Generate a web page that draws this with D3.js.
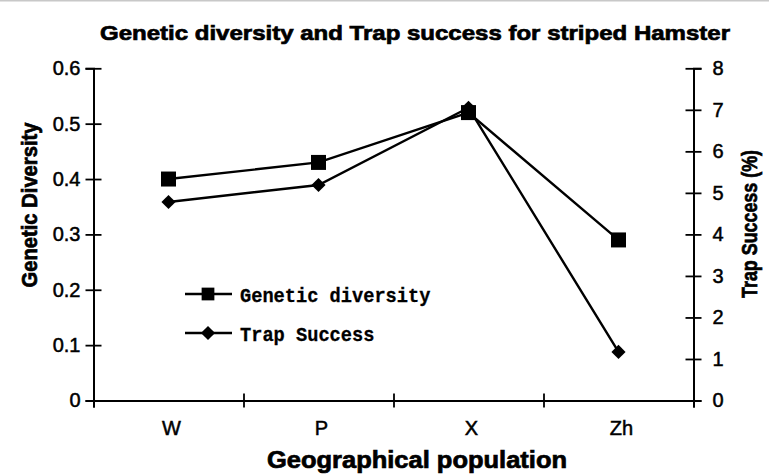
<!DOCTYPE html>
<html>
<head>
<meta charset="utf-8">
<script src="https://cdn.jsdelivr.net/npm/d3@7"></script>
<style>
  html, body { margin: 0; padding: 0; background: #fff; }
  svg { display: block; }
</style>
</head>
<body>
<script>
// ---- data ----
const categories = ["W", "P", "X", "Zh"];
const geneticDiversity = [0.40, 0.43, 0.52, 0.29];
const trapSuccess = [4.78, 5.19, 7.05, 1.17];
const leftTicks = [0, 0.1, 0.2, 0.3, 0.4, 0.5, 0.6];
const rightTicks = [0, 1, 2, 3, 4, 5, 6, 7, 8];
const seriesNames = ["Genetic diversity", "Trap Success"];
const titleText = "Genetic diversity and Trap success for striped Hamster";
const xTitle = "Geographical population";
const yLeftTitle = "Genetic Diversity";
const yRightTitle = "Trap Success (%)";

// ---- layout ----
const W = 769, H = 474;
const plotLeft = 93.5, plotRight = 693.5, plotTop = 68.3, plotBottom = 400.5;

const svg = d3.select("body").append("svg").attr("width", W).attr("height", H);
svg.append("rect").attr("width", W).attr("height", H).attr("fill", "#fff");
svg.append("rect").attr("x", 0).attr("y", 0).attr("width", W).attr("height", 1.5).attr("fill", "#c8c8c8");

const x = d3.scaleBand().domain(categories).range([plotLeft, plotRight]).padding(0);
const xEdges = d3.scaleLinear().domain([0, categories.length]).range([plotLeft, plotRight]);
const yL = d3.scaleLinear().domain([0, 0.6]).range([plotBottom, plotTop]);
const yR = d3.scaleLinear().domain([0, 8]).range([plotBottom, plotTop]);

const font = "'Liberation Sans', Arial, sans-serif";

function styleTickText(sel) {
  sel.attr("font-size", 20).attr("font-family", font).attr("fill", "#000")
    .attr("stroke", "#000").attr("stroke-width", 0.5);
}

// left axis
const gL = svg.append("g").attr("transform", `translate(${plotLeft},0)`)
  .call(d3.axisLeft(yL).tickValues(leftTicks).tickSize(8).tickPadding(5)
    .tickFormat(d => d === 0 ? "0" : d3.format(".1f")(d)));
gL.selectAll(".tick line").attr("x1", 8).attr("x2", -8);
styleTickText(gL.selectAll("text"));

// right axis
const gR = svg.append("g").attr("transform", `translate(${plotRight},0)`)
  .call(d3.axisRight(yR).tickValues(rightTicks).tickSize(8).tickPadding(11).tickFormat(d3.format("d")));
gR.selectAll(".tick line").attr("x1", -8).attr("x2", 8);
styleTickText(gR.selectAll("text"));

// bottom axis: boundary ticks
const gB = svg.append("g").attr("transform", `translate(0,${plotBottom})`)
  .call(d3.axisBottom(xEdges).ticks(categories.length).tickSize(7).tickFormat(""));
gB.selectAll(".tick line").attr("y1", -7).attr("y2", 7);
// bottom labels
const gB2 = svg.append("g").attr("transform", `translate(0,${plotBottom})`)
  .call(d3.axisBottom(x).tickSize(0).tickPadding(20));
gB2.select(".domain").remove();
styleTickText(gB2.selectAll("text"));
gB2.selectAll(".tick").attr("transform", d => `translate(${x(d) + x.bandwidth() / 2 + 3},0)`);

svg.selectAll(".domain").attr("stroke-width", 2);
svg.selectAll(".tick line").attr("stroke-width", 1.8);

// lines
const cx = (i) => x(categories[i]) + x.bandwidth() / 2;
const lineL = d3.line().x((d, i) => cx(i)).y(d => yL(d));
const lineR = d3.line().x((d, i) => cx(i)).y(d => yR(d));
svg.append("path").attr("d", lineL(geneticDiversity)).attr("fill", "none").attr("stroke", "#000").attr("stroke-width", 2.4);
svg.append("path").attr("d", lineR(trapSuccess)).attr("fill", "none").attr("stroke", "#000").attr("stroke-width", 2.4);

const sq = d3.symbol().type(d3.symbolSquare).size(225)();
const dia = d3.symbol().type(d3.symbolSquare).size(100)();

svg.selectAll(".sq").data(geneticDiversity).enter().append("path")
  .attr("class", "sq").attr("d", sq).attr("fill", "#000")
  .attr("transform", (d, i) => `translate(${cx(i)},${yL(d)})`);
svg.selectAll(".dia").data(trapSuccess).enter().append("path")
  .attr("class", "dia").attr("d", dia).attr("fill", "#000")
  .attr("transform", (d, i) => `translate(${cx(i)},${yR(d)}) rotate(45)`);

// legend
const legendY = [294, 333];
const legend = svg.append("g");
seriesNames.forEach((name, i) => {
  const g = legend.append("g").attr("transform", `translate(0,${legendY[i]})`);
  g.append("line").attr("x1", 185).attr("x2", 232).attr("y1", 0).attr("y2", 0).attr("stroke", "#000").attr("stroke-width", 2.4);
  g.append("path").attr("d", i === 0 ? sq : dia).attr("fill", "#000")
    .attr("transform", `translate(208,0)` + (i === 0 ? " scale(0.85)" : " rotate(45)"));
  g.append("text").attr("x", 240).attr("y", 0).attr("dy", "0.36em")
    .attr("font-family", "'Liberation Mono', 'Courier New', monospace").attr("font-weight", "bold")
    .attr("font-size", 21).attr("stroke", "#000").attr("stroke-width", 0.3)
    .attr("textLength", name.length * 11.2).attr("lengthAdjust", "spacingAndGlyphs")
    .text(name);
});

// titles
function heavy(sel) { return sel.attr("stroke", "#000").attr("stroke-width", 0.7); }

heavy(svg.append("text").attr("x", 415).attr("y", 33).attr("dy", "0.35em").attr("text-anchor", "middle")
  .attr("font-family", font).attr("font-weight", "bold").attr("font-size", 21)
  .attr("textLength", 630).attr("lengthAdjust", "spacingAndGlyphs").text(titleText));

heavy(svg.append("text").attr("x", 417).attr("y", 460).attr("dy", "0.35em").attr("text-anchor", "middle")
  .attr("font-family", font).attr("font-weight", "bold").attr("font-size", 23)
  .attr("textLength", 300).attr("lengthAdjust", "spacingAndGlyphs").text(xTitle));

heavy(svg.append("text").attr("transform", "translate(29,205) rotate(-90)").attr("dy", "0.35em").attr("text-anchor", "middle")
  .attr("font-family", font).attr("font-weight", "bold").attr("font-size", 22)
  .attr("textLength", 165).attr("lengthAdjust", "spacingAndGlyphs").text(yLeftTitle));

heavy(svg.append("text").attr("transform", "translate(749,224) rotate(-90)").attr("dy", "0.35em").attr("text-anchor", "middle")
  .attr("font-family", font).attr("font-weight", "bold").attr("font-size", 22)
  .attr("textLength", 148).attr("lengthAdjust", "spacingAndGlyphs").text(yRightTitle));
</script>
</body>
</html>
